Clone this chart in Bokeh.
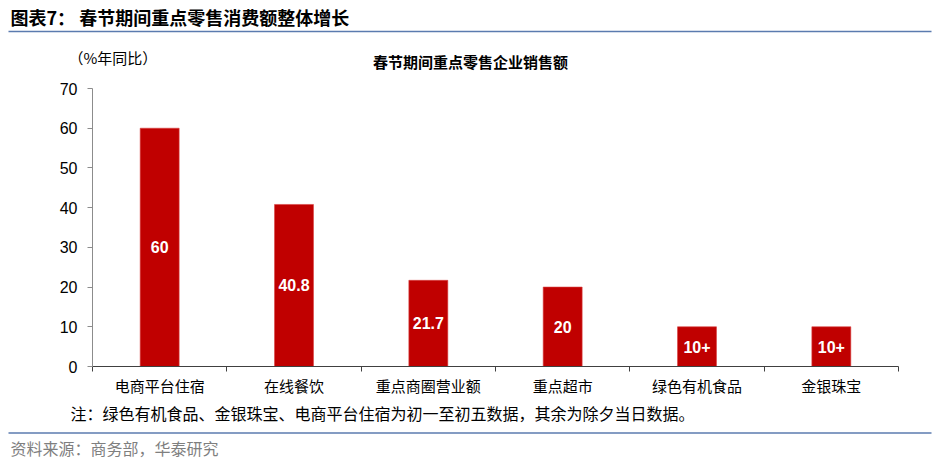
from bokeh.plotting import figure
from bokeh.layouts import column
from bokeh.models import Range1d, FixedTicker, ColumnDataSource
from bokeh.core.properties import value
from bokeh.embed import file_html
from bokeh.resources import INLINE

# ---- data ----
categories = ["电商平台住宿", "在线餐饮", "重点商圈营业额", "重点超市", "绿色有机食品", "金银珠宝"]
growth = [60, 40.8, 21.7, 20, 10, 10]
bar_labels = ["60", "40.8", "21.7", "20", "10+", "10+"]
y_ticks = [0, 10, 20, 30, 40, 50, 60, 70]

main_title = "图表7：  春节期间重点零售消费额整体增长"
chart_title = "春节期间重点零售企业销售额"
unit_label = "（%年同比）"
note_text = "注：绿色有机食品、金银珠宝、电商平台住宿为初一至初五数据，其余为除夕当日数据。"
source_text = "资料来源：商务部，华泰研究"

CJK = "Noto Sans CJK SC"
LAT = "Liberation Sans"
RED = "#C00000"
BLUE = "#5B7BAF"

W = 936
TOP_H = 76
MAIN_H = 322
BOT_H = 62
ML, MR, MT, MB = 92, 38, 12, 32


def no_align(f):
    if "frame_align" in f.properties():
        f.frame_align = False
    return f


def text_panel(h):
    f = figure(width=W, height=h, output_backend="svg", toolbar_location=None,
               x_range=Range1d(0, W), y_range=Range1d(h, 0),
               x_axis_location=None, y_axis_location=None,
               min_border=0, min_border_left=0, min_border_right=0,
               min_border_top=0, min_border_bottom=0)
    f.outline_line_color = None
    f.grid.visible = False
    return no_align(f)


def put_text(f, txt, x, y, size, bold=False, color="black", align="left"):
    f.text(x=[x], y=[y], text=[txt], text_font=value(CJK), text_font_size=size,
           text_font_style="bold" if bold else "normal", text_color=color,
           text_align=align, text_baseline="middle")


# ---- header ----
top = text_panel(TOP_H)
put_text(top, main_title, 10, 16, "18px", bold=True)
top.segment(x0=[8], y0=[31], x1=[931], y1=[31], line_color=BLUE, line_width=1.5)
put_text(top, unit_label, 68, 57, "15px")
put_text(top, chart_title, 470, 61, "15px", bold=True, align="center")

# ---- main chart ----
xs = [i + 0.5 for i in range(len(categories))]
src = ColumnDataSource(dict(x=xs, top=growth, mid=[v / 2 for v in growth], lab=bar_labels))

p = figure(width=W, height=MAIN_H, output_backend="svg", toolbar_location=None,
           x_range=Range1d(0, len(categories)), y_range=Range1d(0, 70),
           min_border_left=ML, min_border_right=MR, min_border_top=MT, min_border_bottom=MB)
p.outline_line_color = None
p.grid.visible = False
no_align(p)

p.vbar(x="x", top="top", width=0.29, source=src, fill_color=RED, line_color="#D84040", line_width=0.6)
p.text(x="x", y="mid", text="lab", source=src, text_align="center", text_baseline="middle",
       text_color="white", text_font=value(LAT), text_font_style="bold", text_font_size="16px")

xa = p.xaxis[0]
xa.ticker = FixedTicker(ticks=xs, minor_ticks=list(range(len(categories) + 1)))
xa.major_label_overrides = {x: c for x, c in zip(xs, categories)}
xa.major_tick_line_color = None
xa.major_tick_out = 0
xa.major_tick_in = 0
xa.minor_tick_out = 5
xa.minor_tick_in = 0
xa.minor_tick_line_color = "#404040"
xa.axis_line_color = "#404040"
xa.major_label_text_font = CJK
xa.major_label_text_font_size = "15px"
xa.major_label_text_color = "black"
xa.major_label_standoff = 3

ya = p.yaxis[0]
ya.ticker = FixedTicker(ticks=y_ticks)
ya.major_tick_out = 5
ya.major_tick_in = 0
ya.minor_tick_line_color = None
ya.axis_line_color = "#8C8C8C"
ya.major_tick_line_color = "#8C8C8C"
ya.major_label_text_font = LAT
ya.major_label_text_font_size = "16px"
ya.major_label_text_color = "black"
ya.major_label_standoff = 10

# ---- footer ----
OFF = TOP_H + MAIN_H
bot = text_panel(BOT_H)
put_text(bot, note_text, 70, 412 - OFF, "16px")
bot.segment(x0=[8], y0=[432.5 - OFF], x1=[931], y1=[432.5 - OFF], line_color=BLUE, line_width=1.5)
put_text(bot, source_text, 10, 447 - OFF, "16px", color="#7F7F7F")

layout = column(top, p, bot, spacing=0)
open("out.html", "w").write(file_html(layout, INLINE))
